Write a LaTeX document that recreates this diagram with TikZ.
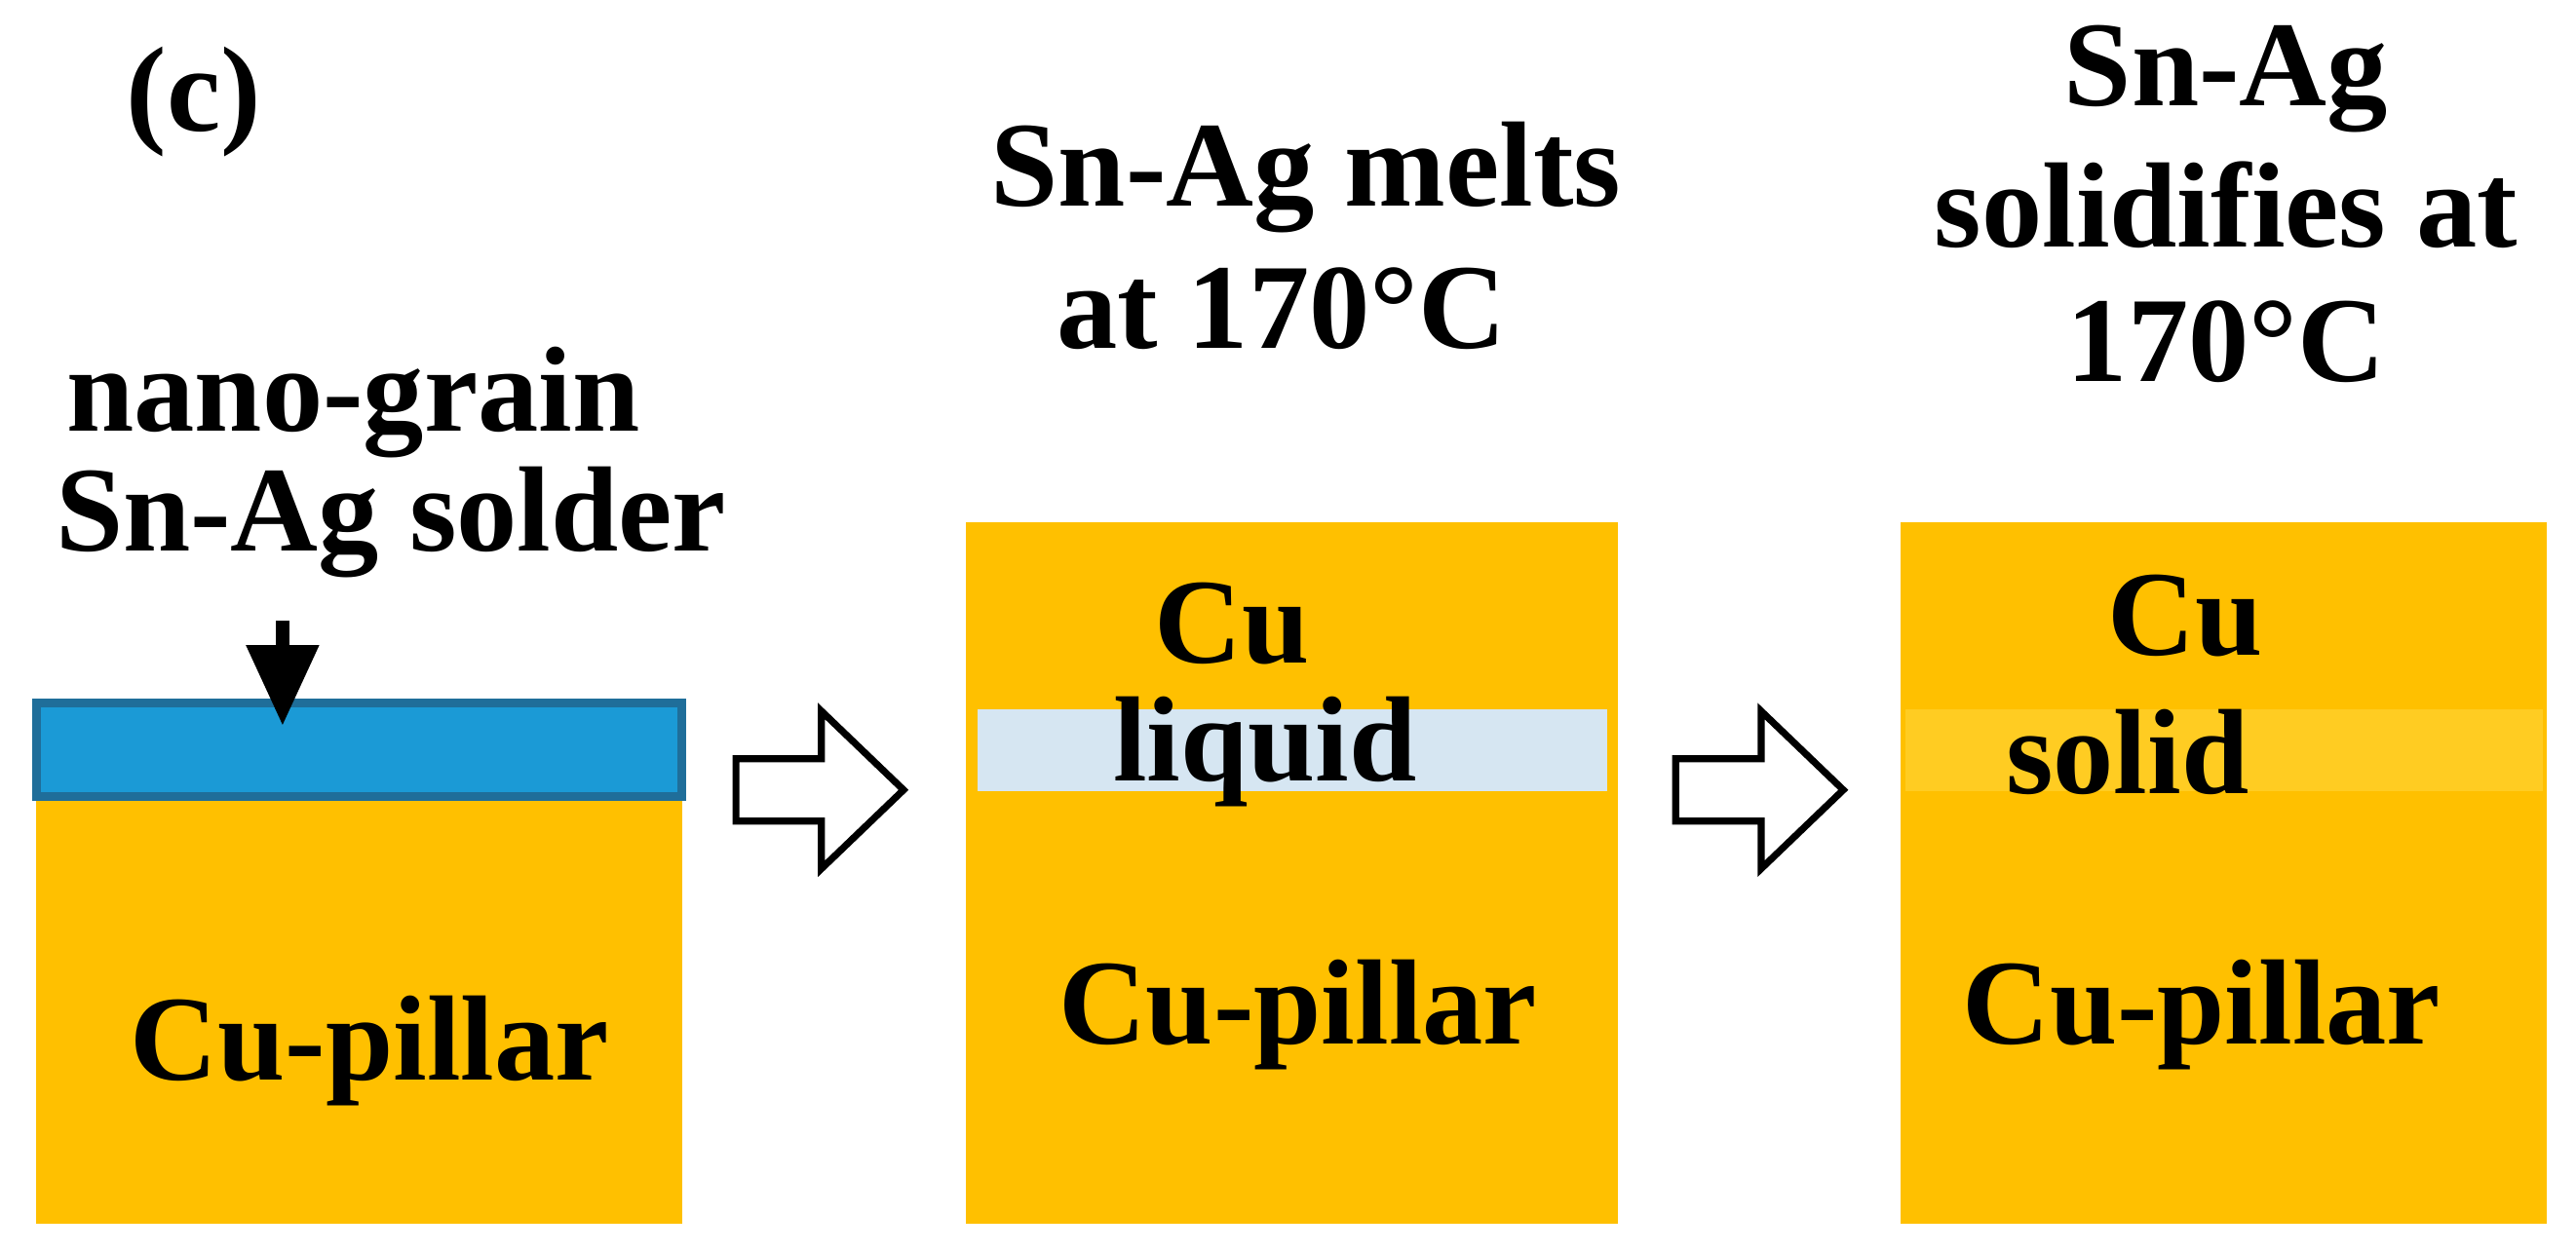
\documentclass[tikz,border=0pt]{standalone}
\usepackage{fontspec}
\setmainfont{Liberation Serif}
\usetikzlibrary{arrows.meta}
\definecolor{cuor}{HTML}{FFC000}
\definecolor{blu}{HTML}{1B9AD6}
\definecolor{blub}{HTML}{1F6E9A}
\definecolor{liq}{HTML}{D6E6F2}
\definecolor{sol}{HTML}{FFCC22}
\begin{document}
\begin{tikzpicture}[x=0.01cm,y=-0.01cm,
  lbl/.style={font=\fontsize{21}{25}\selectfont\bfseries,inner sep=0pt,align=center},
  hollow/.style={draw=black,line width=1.2pt,fill=white}]
\useasboundingbox (0,0) rectangle (1568,762);
\fill[white] (0,0) rectangle (1568,762);
% left
\fill[cuor] (22,485) rectangle (415,745);
\draw[blub,fill=blu,line width=1.5pt] (22,428) rectangle (415,485);
\node[lbl] (c) at (118,62) {(c)};
\node[lbl] (t1) at (215,245) {nano-grain};
\node[lbl] (t2) at (238,318) {Sn-Ag solder};
\coordinate (a1) at (172,378);
\coordinate (a2) at (172,442);
\draw[line width=2.5pt,-{Triangle[length=14pt,width=12pt]}] (a1) -- (a2);
\node[lbl] (p1) at (225,640) {Cu-pillar};
% middle
\fill[cuor] (588,318) rectangle (985,745);
\fill[liq] (595,432) rectangle (978,482);
\node[lbl] (m1) at (795,108) {Sn-Ag melts};
\node[lbl] (m2) at (780,188) {at 170°C};
\node[lbl] (cu2) at (750,380) {Cu};
\node[lbl] (lq) at (770,458) {liquid};
\node[lbl] (p2) at (790,618) {Cu-pillar};
% right
\fill[cuor] (1157,318) rectangle (1550,745);
\fill[sol] (1160,432) rectangle (1548,482);
\node[lbl] (r1) at (1355,48) {Sn-Ag};
\node[lbl] (r2) at (1355,125) {solidifies at};
\node[lbl] (r3) at (1355,208) {170°C};
\node[lbl] (cu3) at (1330,375) {Cu};
\node[lbl] (sl) at (1295,458) {solid};
\node[lbl] (p3) at (1340,618) {Cu-pillar};
% hollow arrows
\foreach \x in {448,1020}{
 \draw[hollow] (\x,462) -- (\x+52,462) -- (\x+52,433) -- (\x+102,481) -- (\x+52,529) -- (\x+52,500) -- (\x,500) -- cycle;
}
\end{tikzpicture}
\end{document}
